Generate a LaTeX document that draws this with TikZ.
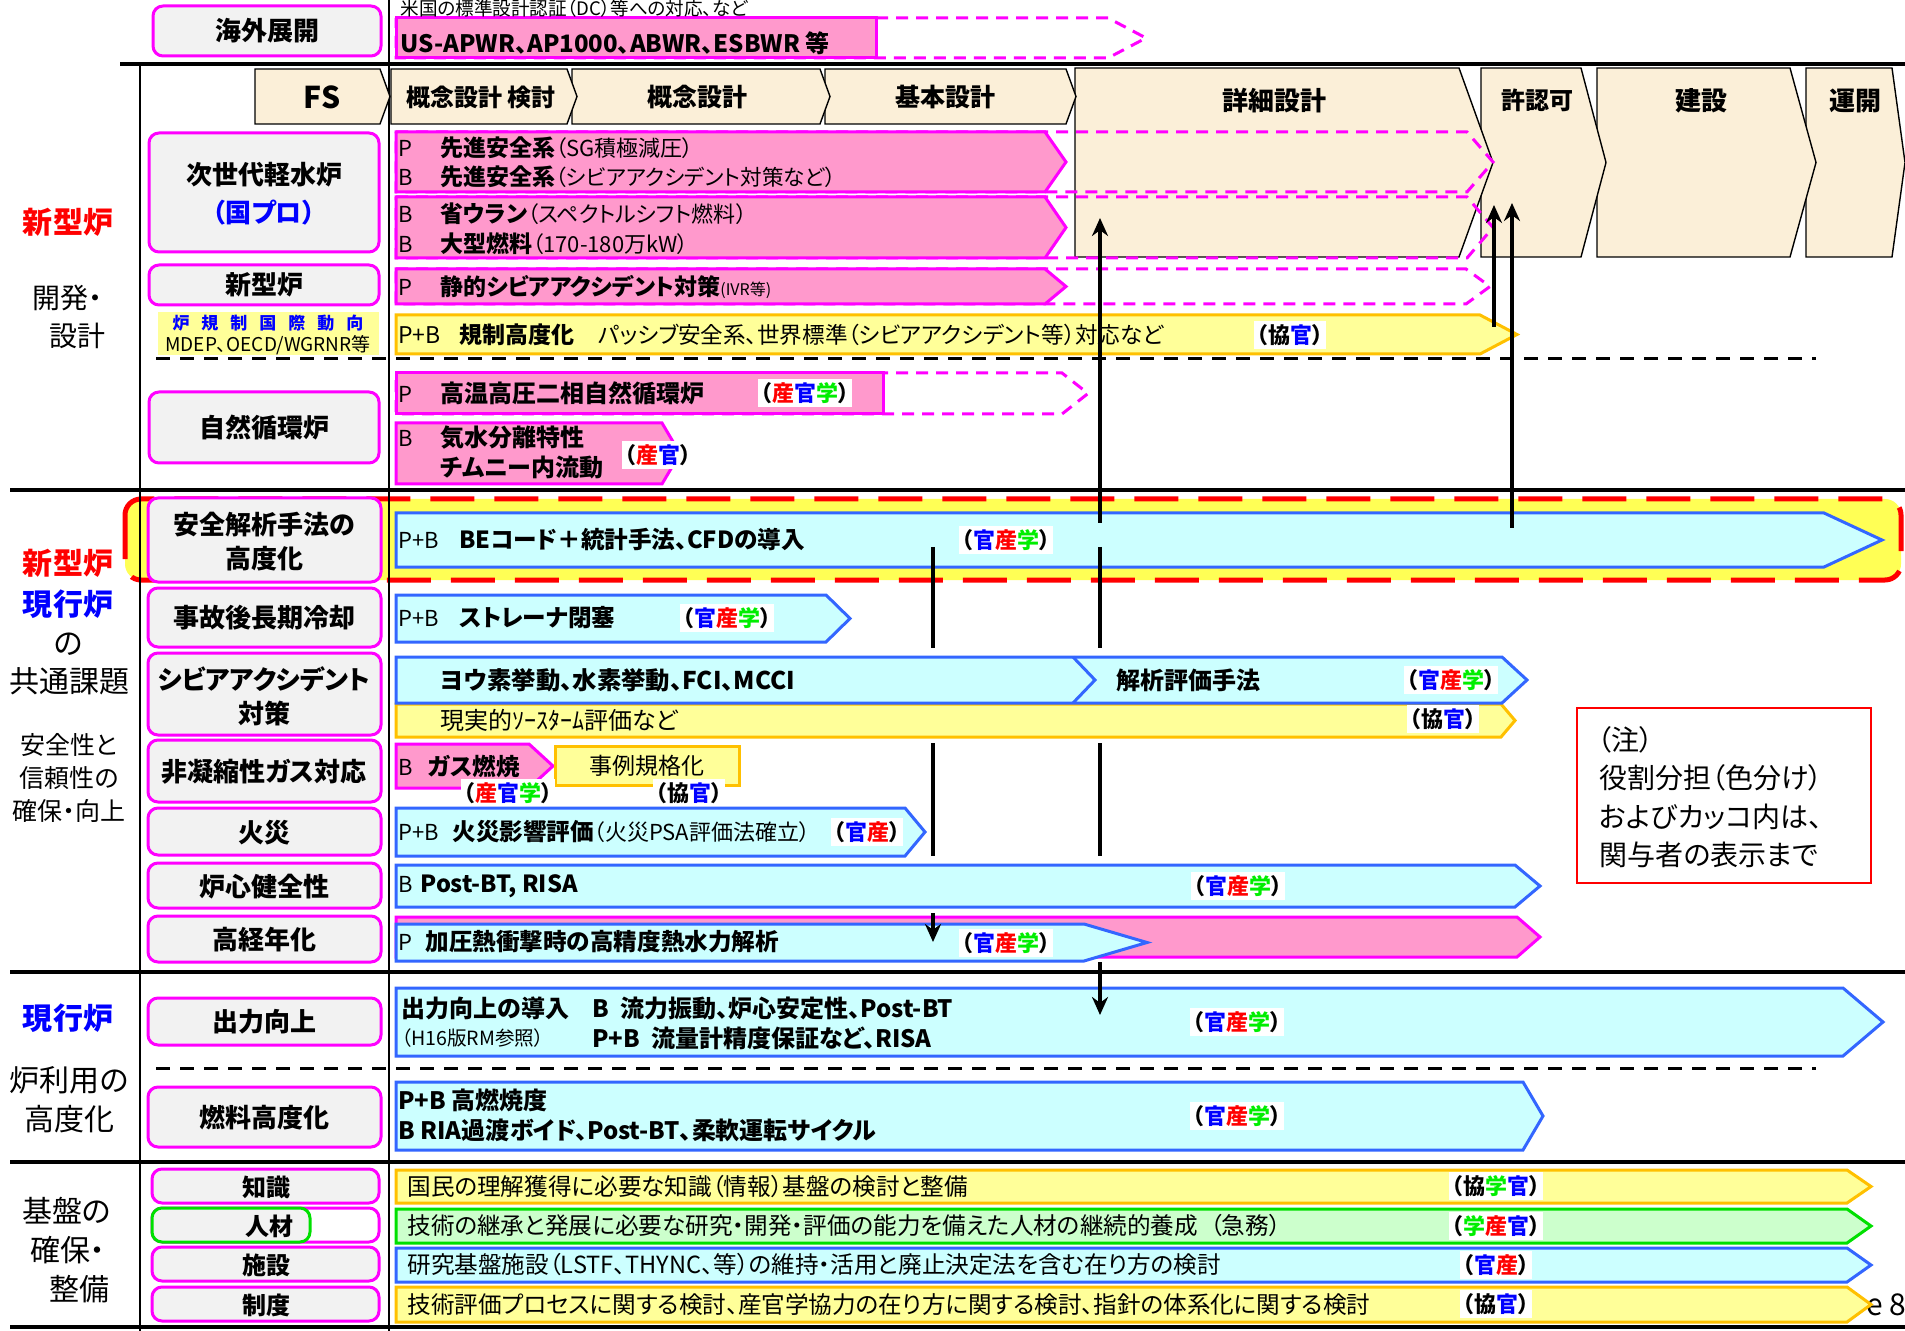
\documentclass[tikz,border=0pt]{standalone}
\usepackage{fontspec}
\setmainfont{Noto Sans CJK JP}[RawFeature=+palt]
\usetikzlibrary{arrows.meta}
\definecolor{pinkf}{HTML}{FF99CC}
\definecolor{mag}{HTML}{FF00FF}
\definecolor{cyanf}{HTML}{CCFFFF}
\definecolor{blueb}{HTML}{3366FF}
\definecolor{yelf}{HTML}{FFFF99}
\definecolor{yelb}{HTML}{FFC000}
\definecolor{grnf}{HTML}{CCFFCC}
\definecolor{grnb}{HTML}{00E000}
\definecolor{labf}{HTML}{F2F2F2}
\definecolor{beige}{HTML}{FBEFD8}
\definecolor{kred}{HTML}{FF0000}
\definecolor{kblue}{HTML}{0000FF}
\definecolor{kgreen}{HTML}{00EE00}
\definecolor{hiy}{HTML}{FFFF55}
\newcommand\fsz[1]{\fontsize{#1}{#1}\selectfont}
\newcommand\chev[6]{\path[#1] (#2,#3) -- ({#4-#6},#3) -- (#4,{(#3+#5)/2}) -- ({#4-#6},#5) -- (#2,#5) -- cycle;}
\newcommand\KAN{\textcolor{kblue}{官}}
\newcommand\SAN{\textcolor{kred}{産}}
\newcommand\GAKU{\textcolor{kgreen}{学}}
\begin{document}
\begin{tikzpicture}[x=0.5pt,y=-0.5pt,
  lab/.style={draw=mag, line width=1.5pt, fill=labf, rounded corners=5pt},
  pinkbar/.style={draw=mag, line width=1.5pt, fill=pinkf},
  dashbar/.style={draw=mag, line width=1.5pt, dash pattern=on 6pt off 4pt},
  cyanbar/.style={draw=blueb, line width=1.5pt, fill=cyanf},
  yelbar/.style={draw=yelb, line width=1.5pt, fill=yelf},
  grnbar/.style={draw=grnb, line width=1.5pt, fill=grnf},
  phase/.style={draw=black, line width=0.7pt, fill=beige},
  tx/.style={anchor=west, inner sep=0pt, font=\fsz{11}},
  lt/.style={inner sep=0pt, align=center, font=\fsz{13}\bfseries},
  cat/.style={inner sep=0pt, font=\fsz{15}},
  tag/.style={fill=white, inner sep=1.5pt, font=\fsz{11}\bfseries},
  hl/.style={line width=2pt},
  vl/.style={line width=1.2pt},
  arl/.style={line width=2.2pt},
  ar/.style={line width=2.2pt, -{Stealth[length=9pt,width=8pt]}}
]
\useasboundingbox (0,0) rectangle (1905,1331);
\clip (0,0) rectangle (1905,1331);
\fill[white] (0,0) rectangle (1905,1331);

% highlighted common row
\draw[draw=red, fill=hiy, line width=2.5pt, dash pattern=on 22pt off 10pt, rounded corners=8pt] (125,499) rectangle (1901,580);

% grid lines
\draw[hl] (120,64) -- (1905,64);
\draw[hl] (10,490) -- (1905,490);
\draw[hl] (10,972) -- (1905,972);
\draw[hl] (10,1162) -- (1905,1162);
\draw[hl] (10,1327) -- (1905,1327);
\draw[vl] (140,64) -- (140,1331);
\draw[vl] (389,0) -- (389,1331);
\draw[line width=1.5pt, dash pattern=on 7pt off 5pt] (156,359) -- (1816,359);
\draw[line width=1.5pt, dash pattern=on 7pt off 5pt] (156,1068) -- (1816,1068);

% phase header
\chev{phase}{1806}{68}{1905}{257}{13}
\chev{phase}{1597}{68}{1816}{257}{26}
\chev{phase}{1481}{68}{1606}{257}{25}
\chev{phase}{1075}{68}{1493}{257}{34}
\chev{phase}{825}{69}{1076}{124}{10}
\chev{phase}{572}{69}{830}{124}{10}
\chev{phase}{391}{69}{577}{124}{10}
\chev{phase}{255}{69}{390}{124}{10}
\node[lt, font=\fsz{15}\bfseries] (hFS) at (322,97) {FS};
\node[lt, font=\fsz{12}\bfseries] (hK1) at (481,97) {概念設計 検討};
\node[lt, font=\fsz{12.5}\bfseries] (hK2) at (697,97) {概念設計};
\node[lt, font=\fsz{12.5}\bfseries] (hK3) at (945,97) {基本設計};
\node[lt, font=\fsz{13}\bfseries] (hK4) at (1274,101) {詳細設計};
\node[lt, font=\fsz{12}\bfseries] (hK5) at (1537,100) {許認可};
\node[lt, font=\fsz{13}\bfseries] (hK6) at (1701,101) {建設};
\node[lt, font=\fsz{13}\bfseries] (hK7) at (1855,101) {運開};

% left category texts
\node[cat, text=kred, font=\fsz{15}\bfseries] (c1) at (68,222) {新型炉};
\node[cat, anchor=west, font=\fsz{14}] (c2) at (32,298) {開発・};
\node[cat, anchor=west, font=\fsz{14}] (c3) at (49,336) {設計};
\node[cat, text=kred, font=\fsz{15}\bfseries] (c4) at (68,563) {新型炉};
\node[cat, text=kblue, font=\fsz{15}\bfseries] (c5) at (68,604) {現行炉};
\node[cat] (c6) at (68,644) {の};
\node[cat] (c7) at (70,681) {共通課題};
\node[cat, font=\fsz{12.5}] (c8) at (69,745) {安全性と};
\node[cat, font=\fsz{12.5}] (c9) at (69,778) {信頼性の};
\node[cat, font=\fsz{12.5}] (c10) at (69,811) {確保・向上};
\node[cat, text=kblue, font=\fsz{15}\bfseries] (c11) at (68,1018) {現行炉};
\node[cat] (c12) at (69,1080) {炉利用の};
\node[cat] (c13) at (70,1119) {高度化};
\node[cat, anchor=west] (c14) at (22,1211) {基盤の};
\node[cat, anchor=west] (c15) at (30,1250) {確保・};
\node[cat, anchor=west] (c16) at (49,1289) {整備};

% row label boxes
\draw[lab] (153,6) rectangle (381,56);
\node[lt] (l0) at (267,31) {海外展開};
\draw[lab] (149,133) rectangle (379,252);
\node[lt, align=center] (l1) at (264,194) {次世代軽水炉\\[6pt]\textcolor{kblue}{（国プロ）}};
\draw[lab] (149,265) rectangle (379,305);
\node[lt] (l2) at (264,285) {新型炉};
\fill[yelf] (158,312) rectangle (379,355);
\node[inner sep=0pt, font=\fsz{8.5}\bfseries, text=kblue] (l3a) at (268,323) {炉\hspace{6pt}規\hspace{6pt}制\hspace{6pt}国\hspace{6pt}際\hspace{6pt}動\hspace{6pt}向};
\node[inner sep=0pt, font=\fsz{9.5}] (l3b) at (268,345) {MDEP、OECD/WGRNR等};
\draw[lab] (149,392) rectangle (379,463);
\node[lt] (l4) at (264,428) {自然循環炉};
\draw[lab] (148,498) rectangle (381,582);
\node[lt, align=center] (l5) at (264,542) {安全解析手法の\\[4pt]高度化};
\draw[lab] (148,588) rectangle (381,647);
\node[lt] (l6) at (264,618) {事故後長期冷却};
\draw[lab] (148,653) rectangle (381,735);
\node[lt, align=center] (l7) at (264,696) {シビアアクシデント\\[4pt]対策};
\draw[lab] (148,740) rectangle (381,802);
\node[lt] (l8) at (264,772) {非凝縮性ガス対応};
\draw[lab] (148,808) rectangle (381,855);
\node[lt] (l9) at (264,833) {火災};
\draw[lab] (148,863) rectangle (381,908);
\node[lt] (l10) at (264,887) {炉心健全性};
\draw[lab] (148,916) rectangle (381,962);
\node[lt] (l11) at (264,940) {高経年化};
\draw[lab] (148,998) rectangle (381,1045);
\node[lt] (l12) at (264,1022) {出力向上};
\draw[lab] (148,1087) rectangle (381,1147);
\node[lt] (l13) at (264,1118) {燃料高度化};
\draw[lab] (152,1169) rectangle (379,1203);
\node[lt, font=\fsz{12}\bfseries] (l14) at (266,1187) {知識};
\draw[lab, fill=white] (152,1208) rectangle (379,1242);
\draw[lab, draw=grnb] (152,1208) rectangle (310,1242);
\node[lt, font=\fsz{12}\bfseries] (l15) at (269,1226) {人材};
\draw[lab] (152,1247) rectangle (379,1281);
\node[lt, font=\fsz{12}\bfseries] (l16) at (266,1265) {施設};
\draw[lab] (152,1287) rectangle (379,1321);
\node[lt, font=\fsz{12}\bfseries] (l17) at (266,1305) {制度};

% page number fragment
\node[anchor=west, inner sep=0pt, font=\fsz{15}] (pg) at (1866,1305) {e 8};

% overseas bar
\chev{dashbar}{396}{18}{1146}{58}{38}
\draw[pinkbar] (396,18) rectangle (876,58);
\node[tx, font=\fsz{9.3}] (t0a) at (400,8) {米国の標準設計認証（DC）等への対応、など};
\node[tx, font=\fsz{12}\bfseries] (t0b) at (400,43) {US-APWR、AP1000、ABWR、ESBWR 等};

% new reactor bars
\chev{dashbar}{396}{132}{1493}{192}{26}
\chev{pinkbar}{396}{132}{1066}{192}{21}
\chev{dashbar}{396}{197}{1493}{258}{26}
\chev{pinkbar}{396}{197}{1066}{258}{21}
\chev{dashbar}{396}{269}{1490}{304}{24}
\chev{pinkbar}{396}{269}{1066}{304}{21}
\chev{yelbar}{396}{315}{1517}{354}{37}
\chev{dashbar}{396}{373}{1088}{414}{26}
\draw[pinkbar] (396,373) rectangle (883,414);
\chev{pinkbar}{396}{423}{680}{484}{18}

\node[tx] (t1a) at (398,148) {\makebox[21pt][l]{P}{\fsz{11.5}\bfseries 先進安全系}{\fsz{11}（SG積極減圧）}};
\node[tx] (t1b) at (398,177) {\makebox[21pt][l]{B}{\fsz{11.5}\bfseries 先進安全系}{\fsz{10.8}（シビアアクシデント対策など）}};
\node[tx] (t2a) at (398,214) {\makebox[21pt][l]{B}{\fsz{11.5}\bfseries 省ウラン}{\fsz{11}（スペクトルシフト燃料）}};
\node[tx] (t2b) at (398,244) {\makebox[21pt][l]{B}{\fsz{11.5}\bfseries 大型燃料}{\fsz{11}（170-180万kW）}};
\node[tx] (t3) at (398,287) {\makebox[21pt][l]{P}{\fsz{11.5}\bfseries 静的シビアアクシデント対策}{\fsz{8}(IVR等)}};
\node[tx, font=\fsz{11.5}] (t4) at (398,335) {\makebox[30.5pt][l]{P+B}{\bfseries 規制高度化}\hspace{12pt}{\fsz{11.3}パッシブ安全系、世界標準（シビアアクシデント等）対応など}};
\node[tag] (g4) at (1290,335) {（協\KAN）};
\node[tx] (t5) at (398,393) {\makebox[21pt][l]{P}{\fsz{12}\bfseries 高温高圧二相自然循環炉}};
\node[tag] (g5) at (805,393) {（\SAN\KAN\GAKU）};
\node[tx] (t6a) at (398,438) {\makebox[21pt][l]{B}{\fsz{12}\bfseries 気水分離特性}};
\node[tx, font=\fsz{12}\bfseries] (t6b) at (440,467) {チムニー内流動};
\node[tag] (g6) at (658,455) {（\SAN\KAN）};

% common issues bars
\chev{cyanbar}{396}{513}{1882}{567}{58}
\node[tx] (t7) at (398,540) {\makebox[30.5pt][l]{P+B}{\fsz{11.8}\bfseries BEコード＋統計手法、CFDの導入}};
\node[tag] (g7) at (1006,540) {（\KAN\SAN\GAKU）};
\chev{cyanbar}{396}{595}{850}{642}{24}
\node[tx] (t8) at (398,618) {\makebox[30.5pt][l]{P+B}{\fsz{11.8}\bfseries ストレーナ閉塞}};
\node[tag] (g8) at (727,618) {（\KAN\SAN\GAKU）};
\chev{yelbar}{396}{704}{1515}{737}{14}
\chev{cyanbar}{396}{657}{1527}{703}{25}
\draw[blueb, line width=1.5pt] (1073,657) -- (1095,680) -- (1073,703);
\node[tx, font=\fsz{12.2}\bfseries] (t9a) at (440,680) {ヨウ素挙動、水素挙動、FCI、MCCI};
\node[tx, font=\fsz{12}\bfseries] (t9b) at (1116,680) {解析評価手法};
\node[tag] (g9) at (1451,680) {（\KAN\SAN\GAKU）};
\node[tx, font=\fsz{12}] (t10) at (440,720) {現実的ｿｰｽﾀｰﾑ評価など};
\node[tag] (g10) at (1443,719) {（協\KAN）};
\chev{pinkbar}{396}{744}{553}{788}{24}
\draw[yelbar] (555,746) rectangle (739,785);
\node[tx] (t11a) at (398,766) {\makebox[15pt][l]{B}{\fsz{11.8}\bfseries ガス燃焼}};
\node[inner sep=0pt, font=\fsz{11.5}] (t11b) at (647,766) {事例規格化};
\node[tag] (g11a) at (508,793) {（\SAN\KAN\GAKU）};
\node[tag] (g11b) at (689,793) {（協\KAN）};
\chev{cyanbar}{396}{808}{925}{856}{20}
\node[tx] (t12) at (398,832) {\makebox[27pt][l]{P+B}{\fsz{11.8}\bfseries 火災影響評価}{\fsz{11}（火災PSA評価法確立）}};
\node[tag] (g12) at (867,832) {（\KAN\SAN）};
\chev{cyanbar}{396}{865}{1540}{907}{25}
\node[tx] (t13) at (398,886) {\makebox[11pt][l]{B}{\fsz{11.8}\bfseries Post-BT, RISA}};
\node[tag] (g13) at (1238,886) {（\KAN\SAN\GAKU）};
\chev{pinkbar}{396}{917}{1540}{957}{23}
\chev{cyanbar}{396}{924}{1147}{961}{63}
\node[tx] (t14) at (398,942) {\makebox[13.5pt][l]{P}{\fsz{11.8}\bfseries 加圧熱衝撃時の高精度熱水力解析}};
\node[tag] (g14) at (1006,943) {（\KAN\SAN\GAKU）};

% current reactor
\chev{cyanbar}{396}{988}{1883}{1056}{40}
\node[tx, font=\fsz{12}\bfseries] (t15a) at (401,1008) {出力向上の導入};
\node[tx, font=\fsz{12}\bfseries] (t15b) at (592,1008) {\makebox[14pt][l]{B}流力振動、炉心安定性、Post-BT};
\node[tx, font=\fsz{9.8}] (t15c) at (401,1038) {（H16版RM参照）};
\node[tx, font=\fsz{12}\bfseries] (t15d) at (592,1038) {\makebox[29.5pt][l]{P+B}流量計精度保証など、RISA};
\node[tag] (g15) at (1237,1022) {（\KAN\SAN\GAKU）};
\chev{cyanbar}{396}{1082}{1543}{1150}{20}
\node[tx, font=\fsz{12}\bfseries] (t16a) at (398,1100) {P+B 高燃焼度};
\node[tx, font=\fsz{12}\bfseries] (t16b) at (398,1130) {B RIA過渡ボイド、Post-BT、柔軟運転サイクル};
\node[tag] (g16) at (1237,1116) {（\KAN\SAN\GAKU）};

% infrastructure
\chev{yelbar}{396}{1170}{1871}{1203}{24}
\chev{grnbar}{396}{1209}{1871}{1243}{24}
\chev{cyanbar}{396}{1248}{1871}{1282}{24}
\chev{yelbar}{396}{1287}{1871}{1322}{24}
\node[tx, font=\fsz{11.8}] (t17) at (407,1187) {国民の理解獲得に必要な知識（情報）基盤の検討と整備};
\node[tag] (g17) at (1496,1186) {（協\GAKU\KAN）};
\node[tx, font=\fsz{11.8}] (t18) at (407,1226) {技術の継承と発展に必要な研究・開発・評価の能力を備えた人材の継続的養成\hspace{6pt}（急務）};
\node[tag] (g18) at (1496,1226) {（\GAKU\SAN\KAN）};
\node[tx, font=\fsz{11.8}] (t19) at (407,1265) {研究基盤施設（LSTF、THYNC、等）の維持・活用と廃止決定法を含む在り方の検討};
\node[tag] (g19) at (1496,1265) {（\KAN\SAN）};
\node[tx, font=\fsz{11.8}] (t20) at (407,1305) {技術評価プロセスに関する検討、産官学協力の在り方に関する検討、指針の体系化に関する検討};
\node[tag] (g20) at (1496,1304) {（協\KAN）};

% note box
\draw[red, line width=1pt, fill=white] (1577,708) rectangle (1871,883);
\node[tx, font=\fsz{14}] (n1) at (1597,740) {（注）};
\node[tx, font=\fsz{14}] (n2) at (1599,778) {役割分担（色分け）};
\node[tx, font=\fsz{14}] (n3) at (1599,817) {およびカッコ内は、};
\node[tx, font=\fsz{14}] (n4) at (1599,855) {関与者の表示まで};

% vertical arrows
\coordinate (a1s) at (1100,523); \coordinate (a1e) at (1100,218);
\coordinate (a2s) at (1100,547); \coordinate (a2e) at (1100,648);
\coordinate (a3s) at (1100,743); \coordinate (a3e) at (1100,856);
\coordinate (a4s) at (1100,962); \coordinate (a4e) at (1100,1015);
\coordinate (b1s) at (933,547); \coordinate (b1e) at (933,648);
\coordinate (b2s) at (933,743); \coordinate (b2e) at (933,856);
\coordinate (b3s) at (933,913); \coordinate (b3e) at (933,942);
\coordinate (c1s) at (1494,327); \coordinate (c1e) at (1494,205);
\coordinate (c2s) at (1512,528); \coordinate (c2e) at (1512,203);
\draw[ar] (a1s) -- (a1e);
\draw[arl] (a2s) -- (a2e);
\draw[arl] (a3s) -- (a3e);
\draw[ar] (a4s) -- (a4e);
\draw[arl] (b1s) -- (b1e);
\draw[arl] (b2s) -- (b2e);
\draw[ar] (b3s) -- (b3e);
\draw[ar] (c1s) -- (c1e);
\draw[ar] (c2s) -- (c2e);
\end{tikzpicture}
\end{document}
